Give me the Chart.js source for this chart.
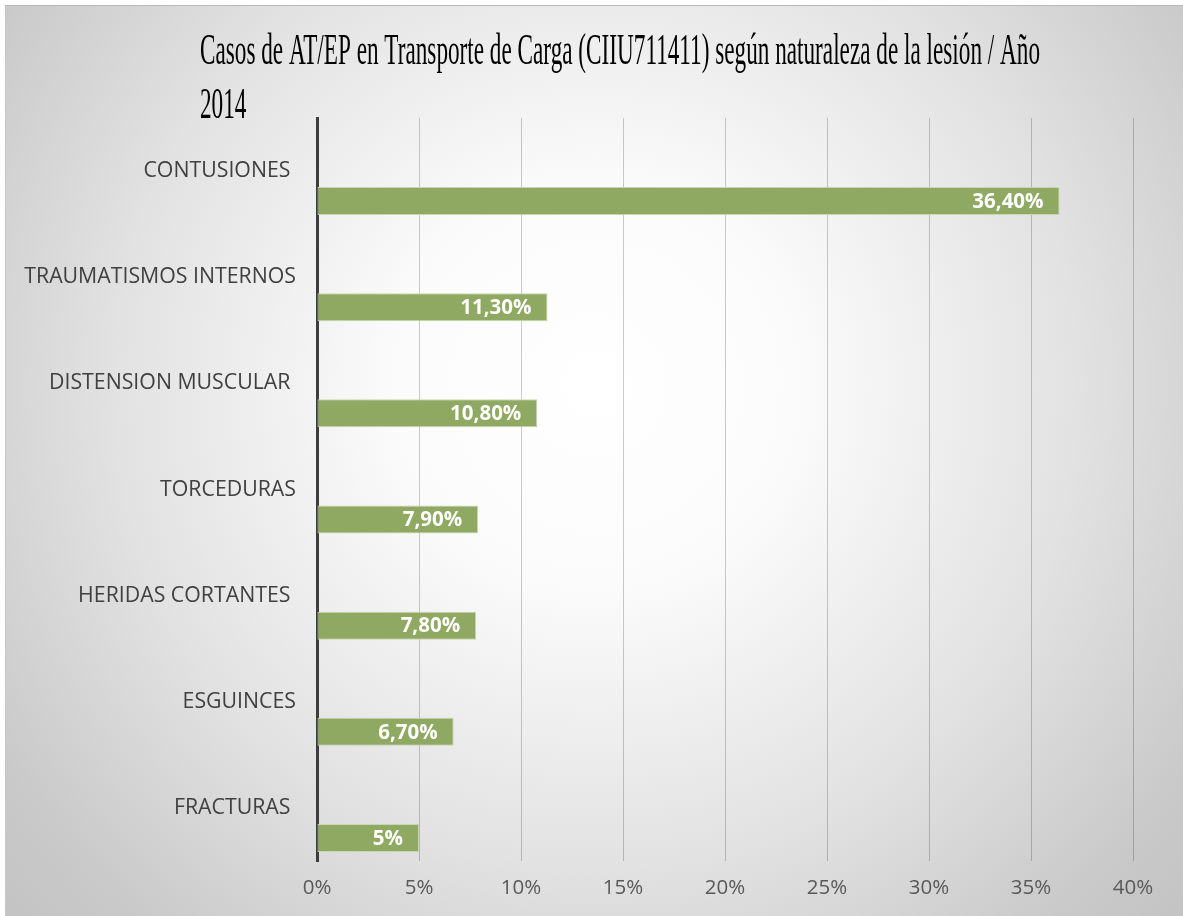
<!DOCTYPE html>
<html>
<head>
<meta charset="utf-8">
<script src="https://cdn.jsdelivr.net/npm/chart.js@4/dist/chart.umd.min.js"></script>
<style>
  html, body { margin: 0; padding: 0; background: #fff; }
  #wrap {
    position: absolute; left: 5px; top: 5px;
    width: 1177px; height: 910px;
    border-top: 1px solid #b8b8b8; border-left: 1px solid #c8c8c8;
  }
</style>
</head>
<body>
<div id="wrap"><canvas id="chart"></canvas></div>
<script>
// datos del gráfico
const titleLines = ['Casos de AT/EP en Transporte de Carga (CIIU711411) según naturaleza de la lesión / Año', '2014'];
const categories = ['CONTUSIONES ', 'TRAUMATISMOS INTERNOS', 'DISTENSION MUSCULAR ', 'TORCEDURAS', 'HERIDAS CORTANTES ', 'ESGUINCES', 'FRACTURAS '];
const values = [36.4, 11.3, 10.8, 7.9, 7.8, 6.7, 5];
const xMin = 0, xMax = 40, xStep = 5;

function fmtPct(v) {
    return Number.isInteger(v) ? v + '%' : v.toFixed(2).replace('.', ',') + '%';
}

// fondo con degradado radial
const bgPlugin = {
    id: 'bg',
    beforeDraw(chart) {
        const ctx = chart.ctx;
        const g = ctx.createRadialGradient(590, 380, 0, 590, 380, 800);
        g.addColorStop(0, '#ffffff');
        g.addColorStop(0.25, '#fbfbfb');
        g.addColorStop(0.6, '#e2e2e2');
        g.addColorStop(0.88, '#c9c9c9');
        g.addColorStop(1, '#c3c3c3');
        ctx.save();
        ctx.fillStyle = g;
        ctx.fillRect(0, 0, chart.width, chart.height);
        ctx.restore();
    }
};

// título con letra condensada
const titlePlugin = {
    id: 'condTitle',
    afterDraw(chart) {
        const ctx = chart.ctx;
        ctx.save();
        ctx.font = '45px "Liberation Serif"';
        ctx.fillStyle = '#000';
        ctx.textBaseline = 'alphabetic';
        const sx = 840 / ctx.measureText(titleLines[0]).width;
        ctx.translate(194, 0);
        ctx.scale(sx, 1);
        ctx.fillText(titleLines[0], 0, 58);
        ctx.fillText(titleLines[1], 0, 112);
        ctx.restore();
    }
};

// etiquetas de valor dentro de la barra
const valueLabels = {
    id: 'valueLabels',
    afterDatasetsDraw(chart) {
        const ctx = chart.ctx;
        const meta = chart.getDatasetMeta(1);
        ctx.save();
        ctx.font = 'bold 20.5px "Open Sans"';
        ctx.fillStyle = '#fff';
        ctx.textAlign = 'right';
        ctx.textBaseline = 'middle';
        meta.data.forEach((bar, i) => {
            ctx.fillText(fmtPct(values[i]), bar.x - 16, bar.y + 1);
        });
        ctx.restore();
    }
};

new Chart(document.getElementById('chart'), {
    type: 'bar',
    data: {
        labels: categories,
        datasets: [
            { label: '', data: categories.map(() => null) },
            {
                label: 'Porcentaje',
                data: values,
                backgroundColor: '#8fa962',
                borderColor: '#c9d6b3',
                borderWidth: 1,
                borderSkipped: false
            }
        ]
    },
    options: {
        indexAxis: 'y',
        responsive: true,
        maintainAspectRatio: false,
        animation: false,
        categoryPercentage: 1.13,
        barPercentage: 0.467,
        layout: { padding: { left: 11, top: 112, right: 50, bottom: 7 } },
        plugins: {
            legend: { display: false },
            tooltip: { enabled: false },
            title: { display: false }
        },
        scales: {
            x: {
                min: xMin,
                max: xMax,
                afterFit: s => { s.height = 48; },
                ticks: {
                    stepSize: xStep,
                    callback: v => v + '%',
                    color: '#595959',
                    font: { family: '"Open Sans"', size: 20.5 },
                    padding: 15
                },
                grid: { color: 'rgba(0,0,0,0.2)', lineWidth: 1, drawTicks: false },
                border: { display: false }
            },
            y: {
                afterFit: s => { s.width = 300; },
                ticks: {
                    color: '#404040',
                    font: { family: '"Open Sans"', size: 21.3 },
                    padding: 21
                },
                grid: { display: false, drawTicks: false },
                border: { display: true, color: '#3d3d3d', width: 3 }
            }
        }
    },
    plugins: [bgPlugin, titlePlugin, valueLabels]
});
</script>
</body>
</html>
